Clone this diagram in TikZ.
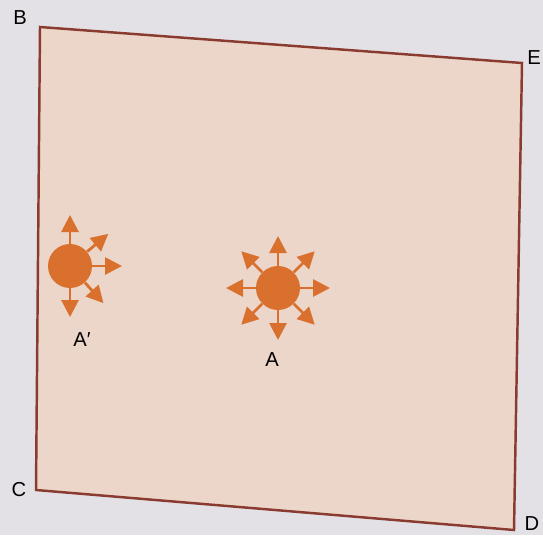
\documentclass[tikz,border=0pt]{standalone}
\usepackage{fontspec}
\setmainfont{Liberation Sans}
\usetikzlibrary{calc,arrows.meta}

\definecolor{pagegray}{HTML}{E3E1E5}
\definecolor{sheet}{HTML}{ECD5C9}
\definecolor{rim}{HTML}{8A3B30}
\definecolor{charge}{HTML}{D9702E}

\tikzset{
  pt/.style={circle, fill=charge, inner sep=0pt, minimum size=0.88cm},
  ray/.style={charge, line width=1.6pt, -{Triangle[length=0.34cm,width=0.34cm]}},
  lbl/.style={font=\fontsize{11.5}{13}\selectfont}
}

\begin{document}
\begin{tikzpicture}[x=0.02cm, y=0.02cm]
  \useasboundingbox (0,0) rectangle (543,535);
  \fill[pagegray] (0,0) rectangle (543,535);

  \coordinate (B) at (40, 508);
  \coordinate (E) at (522, 472);
  \coordinate (D) at (514, 5);
  \coordinate (C) at (36, 45);

  % sheet BEDC
  \filldraw[fill=sheet, draw=rim, line width=1.4pt, line join=miter]
    (B) -- (E) -- (D) -- (C) -- cycle;

  \node[lbl] at (20, 517) {B};
  \node[lbl] at (534, 477) {E};
  \node[lbl] at (19, 45) {C};
  \node[lbl] at (532, 11) {D};

  % charge A' (five rays)
  \node[pt] (Ap) at (70, 269) {};
  \foreach \a/\r in {90/51, 40/50, 0/52, -48/50, -90/51}
    \draw[ray] (Ap.\a) -- ($(Ap)+(\a:\r)$);
  \node[lbl] at (82, 195) {A′};

  % charge A (eight rays)
  \node[pt] (A) at (278, 247) {};
  \foreach \a in {0,45,...,315}
    \draw[ray] (A.\a) -- ($(A)+(\a:52)$);
  \node[lbl] at (272, 175) {A};
\end{tikzpicture}
\end{document}
